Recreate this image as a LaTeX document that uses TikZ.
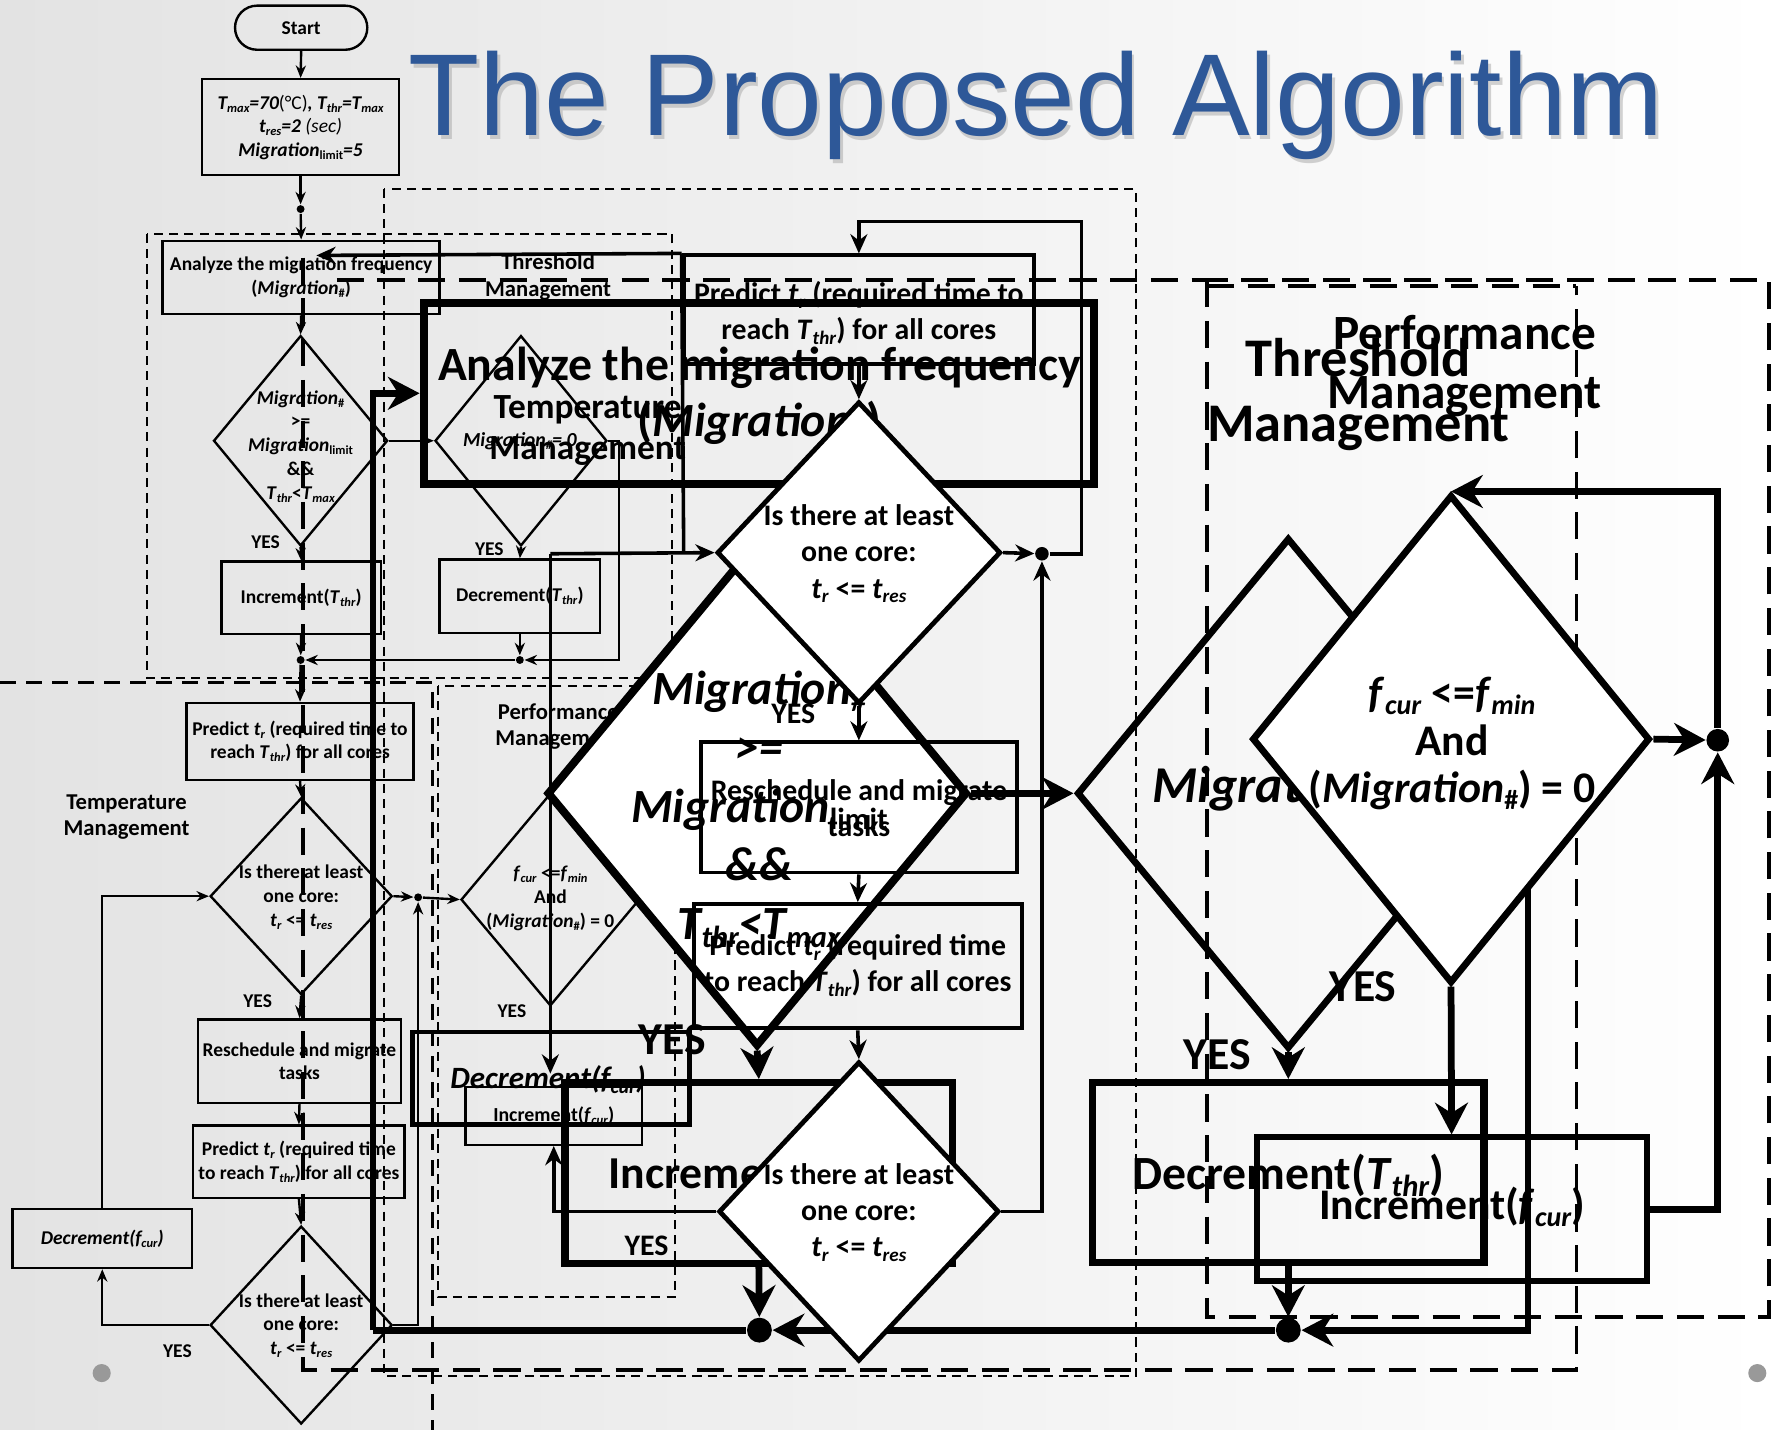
\documentclass[tikz,border=0pt]{standalone}
\usepackage{fontspec}
\setmainfont{Carlito}
\newfontfamily\titlefont{Liberation Sans}
\usetikzlibrary{shapes.geometric,arrows.meta}
\definecolor{titleblue}{RGB}{46,88,152}
\newcommand\sbs[1]{\raisebox{-0.32ex}{\scalebox{0.64}{#1}}}
\newcommand\fSm{\fontsize{4.9}{6}\selectfont\bfseries}
\newcommand\fLb{\fontsize{5.7}{6.6}\selectfont\bfseries}
\newcommand\fMd{\fontsize{7.5}{9}\selectfont\bfseries}
\newcommand\vT[1]{\textit{T}\sbs{\textit{#1}}}
\newcommand\vt[1]{\textit{t}\sbs{\textit{#1}}}
\newcommand\vf[1]{\textit{f}\sbs{\textit{#1}}}
\newcommand\vM{\textit{Migration}}
\begin{document}
\begin{tikzpicture}[x=0.01cm,y=-0.01cm,
  tn/.style={draw,line width=0.6pt,inner sep=0pt,align=center},
  mn/.style={draw,line width=1.0pt,inner sep=0pt,align=center},
  bn/.style={draw,line width=1.8pt,inner sep=0pt,align=center},
  dia/.style={diamond,draw,inner sep=0pt},
  txt/.style={inner sep=0pt,align=center},
  sa/.style={line width=0.6pt,-{Stealth[length=1.1mm,width=0.9mm]}},
  ma/.style={line width=0.9pt,-{Stealth[length=1.7mm,width=1.5mm]}},
  ba/.style={line width=1.7pt,-{Stealth[length=2.8mm,width=2.9mm]}},
  bl/.style={line width=1.7pt},
  dthin/.style={line width=0.5pt,dash pattern=on 0.8mm off 0.55mm},
  dmid/.style={line width=0.7pt,dash pattern=on 1.4mm off 0.9mm},
  dthick/.style={line width=1.0pt,dash pattern=on 2.4mm off 1.2mm},
  dot/.style={circle,fill=black,inner sep=0pt}
]
\useasboundingbox (0,0) rectangle (1568,1265);
\shade[left color=black!11,right color=white] (0,0) rectangle (1568,1265);
\node[anchor=base,inner sep=0pt,text=black!35,opacity=0.5,font=\titlefont\fontsize{29.3}{33}\selectfont] (titlesh) at (919.5,123) {The Proposed Algorithm};
\node[anchor=base,inner sep=0pt,text=titleblue,font=\titlefont\fontsize{29.3}{33}\selectfont] (title) at (917,120) {The Proposed Algorithm};

% ---------- dashed regions ----------
\draw[dthin] (130,207) rectangle (595,600);
\draw[dthin] (340,167) rectangle (1005,1218);
\draw[dmid] (0,604) -- (383,604) -- (383,1265);
\draw[dthin] (388,607) rectangle (597,1148);
\draw[dthick] (268,228) -- (268,1212) -- (1395,1212) -- (1395,253);
\draw[dthick] (298,248) -- (1068,248);
\draw[dthick] (1068,253) -- (1395,253);
\draw[dthick] (1068,248) rectangle (1565,1165);

% ---------- left (small) chart ----------
\node[tn,rounded corners=0.195cm,minimum width=1.17cm,minimum height=0.39cm,font=\fSm] (start) at (266.5,24.5) {Start};
\node[tn,minimum width=1.74cm,minimum height=0.85cm,font=\fontsize{4.9}{5.9}\selectfont\bfseries\itshape] (init) at (266,112.5) {T\sbs{max}=70{\upshape\mdseries(°C)}, T\sbs{thr}=T\sbs{max}\\t\sbs{res}=2 {\mdseries(sec)}\\Migration\sbs{\upshape limit}=5};
\node[dot,minimum size=0.07cm] (p1) at (266,185) {};
\node[tn,minimum width=2.45cm,minimum height=0.65cm,font=\fSm] (an) at (266.5,245.5) {Analyze the migration frequency\\(\vM\sbs{\#})};
\node[dia,line width=0.6pt,minimum width=1.54cm,minimum height=1.86cm] (d1) at (266,390) {};
\node[txt,font=\fSm] (d1t) at (266,395) {\vM\sbs{\#}\\>=\\\vM\sbs{limit}\\\&\&\\\vT{thr}<\vT{max}};
\node[tn,minimum width=1.41cm,minimum height=0.64cm,font=\fSm] (inc1) at (266.5,529) {Increment(\vT{thr})};
\node[dia,line width=0.6pt,minimum width=1.52cm,minimum height=1.86cm] (d2) at (461,390) {};
\node[txt,font=\fontsize{5}{6}\selectfont\bfseries\itshape] (d2t) at (460,390) {Migration\sbs{\#}= 0};
\node[tn,minimum width=1.42cm,minimum height=0.65cm,font=\fSm] (dec1) at (460,527.5) {Decrement(\vT{thr})};
\node[dot,minimum size=0.07cm] (p2) at (266,584) {};
\node[dot,minimum size=0.07cm] (p3) at (460,584) {};
\node[tn,minimum width=2.01cm,minimum height=0.68cm,font=\fSm] (pred1) at (265.5,656) {Predict \vt{r} (required time to\\reach \vT{thr}) for all cores};
\node[dia,line width=0.6pt,minimum width=1.61cm,minimum height=1.74cm] (d3) at (266.5,793) {};
\node[txt,font=\fSm] (d3t) at (266.5,794) {Is there at least\\one core:\\\vt{r} <= \vt{res}};
\node[tn,minimum width=1.80cm,minimum height=0.74cm,font=\fSm] (resch1) at (265,939) {Reschedule and migrate\\tasks};
\node[tn,minimum width=1.87cm,minimum height=0.64cm,font=\fSm] (pred2) at (264.5,1028) {Predict \vt{r} (required time\\to reach \vT{thr}) for all cores};
\node[dia,line width=0.6pt,minimum width=1.61cm,minimum height=1.75cm] (d4) at (266.5,1172.5) {};
\node[txt,font=\fSm] (d4t) at (266.5,1173) {Is there at least\\one core:\\\vt{r} <= \vt{res}};
\node[tn,minimum width=1.59cm,minimum height=0.52cm,font=\fSm\itshape] (decf) at (90.5,1096) {Decrement(\vf{cur})};
\node[dot,minimum size=0.07cm] (p4) at (370,794) {};
\node[dia,line width=0.6pt,minimum width=1.58cm,minimum height=1.88cm] (d5) at (487,796) {};
\node[txt,font=\fSm] (d5t) at (487,795) {\vf{cur} <=\vf{min}\\And\\(\vM\sbs{\#}) = 0};

\node[txt,font=\fLb] (lth) at (485,245) {Threshold\\Management};
\node[txt,font=\fLb] (ltm) at (112,723) {Temperature\\Management};
\node[txt,font=\fLb] (lpm) at (494,643) {Performance\\Management};
\node[txt,font=\fSm] (y1) at (235,480) {YES};
\node[txt,font=\fSm] (y2) at (433,486) {YES};
\node[txt,font=\fSm] (y3) at (228,886) {YES};
\node[txt,font=\fSm] (y4) at (157,1196) {YES};
\node[txt,font=\fSm] (y5) at (453,895) {YES};

\draw[sa] (start.south) -- (init.north);
\draw[sa] (init.south) -- (p1);
\draw[sa] (p1) -- (an.north);
\draw[sa] (an.south) -- (d1.north);
\draw[sa] (d1.south) -- (inc1.north);
\draw[sa] (inc1.south) -- (p2);
\draw[sa] (d1.east) -- (d2.west);
\draw[sa] (d2.south) -- (dec1.north);
\draw[sa] (dec1.south) -- (p3);
\draw[sa] (d2.east) -- (548,390) |- (p3);
\draw[sa] (p3) -- (p2);
\draw[sa] (p2) -- (pred1.north);
\draw[sa] (pred1.south) -- (d3.north);
\draw[sa] (d3.south) -- (resch1.north);
\draw[sa] (resch1.south) -- (pred2.north);
\draw[sa] (pred2.south) -- (d4.north);
\draw[sa] (d4.west) -| (decf.south);
\draw[sa] (decf.north) |- (d3.west);
\draw[sa] (d3.east) -- (p4);
\draw[sa] (p4) -- (d5.west);
\draw[sa] (d4.east) -| (p4.south);

\fill[black!40] (90,1215) circle[radius=0.08cm];
\fill[black!40] (1555,1215) circle[radius=0.08cm];

% ---------- middle (large) chart ----------
\node[draw,line width=2pt,minimum width=5.93cm,minimum height=1.6cm] (bigan) at (671.5,348) {};
\node[txt,font=\fontsize{12}{14.2}\selectfont\bfseries] (bigant) at (672,350) {Analyze the migration frequency\\(\vM\sbs{\#})};
\node[txt,font=\fontsize{8.9}{10.5}\selectfont\bfseries] (mtm) at (520,381) {Temperature\\Management};
\node[mn,minimum width=3.10cm,minimum height=0.96cm] (mpred) at (760,274) {};
\node[txt,font=\fMd] (mpredt) at (760,277) {Predict \vt{r} (required time to\\reach \vT{thr}) for all cores};

\coordinate (j1) at (487,490);
\draw[line width=0.9pt] (mpred.north west) -- (605,490);
\draw[line width=0.9pt,-{Stealth[length=1.7mm,width=1.5mm]}] (mpred.north west) -- (280,226);

\node[draw,line width=1.1pt,minimum width=2.45cm,minimum height=0.82cm] (bdecf) at (487.5,954) {};
\node[txt,font=\fontsize{7.8}{9}\selectfont\bfseries\itshape] (bdecft) at (485,955) {Decrement(\vf{cur})};
\node[tn,minimum width=1.56cm,minimum height=0.51cm,font=\fontsize{5}{6}\selectfont\bfseries] (incf) at (490,987.5) {Increment(\vf{cur})};

\draw[ma] (j1) -- (487,950);

\node[dia,line width=2pt,fill=white,minimum width=3.72cm,minimum height=4.48cm] (dB) at (670,702) {};
\node[mn,minimum width=2.80cm,minimum height=1.15cm] (resch2) at (760,714.5) {};
\node[txt,font=\fMd] (resch2t) at (760,715) {Reschedule and migrate\\tasks};
\node[mn,minimum width=2.90cm,minimum height=1.10cm] (pred3) at (759,855) {};
\node[txt,font=\fMd] (pred3t) at (759,854) {Predict \vt{r} (required time\\to reach \vT{thr}) for all cores};
\node[txt,font=\fontsize{12}{14.8}\selectfont\bfseries\itshape] (dBt) at (672,716) {Migration\sbs{\#}\\>=\\Migration\sbs{\upshape limit}\\\&\&\\T\sbs{thr}<T\sbs{max}};

\node[draw,line width=1.8pt,minimum width=3.43cm,minimum height=1.6cm] (binc) at (671.5,1038) {};
\node[txt,font=\fontsize{11.5}{13}\selectfont\bfseries] (binct) at (664,1040) {Increment(\vT{thr})};

\node[dot,minimum size=0.22cm] (pL) at (672,1177) {};
\node[dot,minimum size=0.22cm] (pR) at (1140,1177) {};
\node[dot,minimum size=0.12cm] (pA) at (922,490) {};
\node[dot,minimum size=0.2cm] (pE) at (1520,655) {};

\draw[bl] (330,1177) -- (pL);
\draw[ba] (330,1177) -- (330,348) -- (bigan.west);
\draw[ba] (pR) -- (pL);

\node[dia,line width=1.2pt,fill=white,minimum width=2.51cm,minimum height=2.67cm] (dA) at (760,489) {};
\node[txt,font=\fontsize{7.5}{9.1}\selectfont\bfseries] (dAt) at (760,490) {Is there at least\\one core:\\\vt{r} <= \vt{res}};
\node[dia,line width=1.2pt,fill=white,minimum width=2.48cm,minimum height=2.65cm] (dC) at (760,1072) {};
\node[txt,font=\fontsize{7.5}{9.1}\selectfont\bfseries] (dCt) at (760,1073) {Is there at least\\one core:\\\vt{r} <= \vt{res}};

\draw[ma] (j1) -- (dA.west);
\draw[ma] (dA.east) -- (pA);
\draw[ma] (pA) -- (957,490) -- (957,196) -| (mpred.north);
\draw[ma] (mpred.south) -- (dA.north);
\draw[ma] (dA.south) -- (resch2.north);
\draw[ma] (resch2.south) -- (pred3.north);
\draw[ma] (pred3.south) -- (dC.north);
\draw[ma] (dC.east) -| (pA.south);
\draw[ma] (dC.west) -| (incf.south);

\draw[ba] (dB.south) -- (binc.north);
\draw[ba] (binc.south) -- (pL);

\node[txt,font=\fMd] (yA) at (702,632) {YES};
\node[txt,font=\fMd] (yC) at (572,1102) {YES};
\node[txt,font=\fontsize{11.5}{13}\selectfont\bfseries] (yB) at (595,920) {YES};

% ---------- right (large) chart ----------
\node[txt,font=\fontsize{13.7}{16.5}\selectfont\bfseries] (rth) at (1202,349) {Threshold\\Management};
\node[txt,font=\fontsize{12.4}{14.8}\selectfont\bfseries] (rpm) at (1296,324) {Performance\\Management};

\node[dia,line width=1.7pt,minimum width=3.74cm,minimum height=4.52cm] (dD) at (1140,702) {};
\node[txt,font=\fontsize{13}{15}\selectfont\bfseries\itshape] (dDt) at (1115,698) {Migration};
\draw[ba] (1352,720) -- (1352,1177) -- (pR);

\node[dia,line width=1.7pt,fill=white,minimum width=3.52cm,minimum height=4.32cm] (dE) at (1284,654) {};
\node[txt,font=\fontsize{11}{12}\selectfont\bfseries] (dEt) at (1285,658) {\vf{cur} <=\vf{min}\\And\\(\vM\sbs{\#}) = 0};

\node[draw,line width=1.8pt,minimum width=3.46cm,minimum height=1.59cm] (decT) at (1140,1037.5) {};
\node[txt,font=\fontsize{12}{14}\selectfont\bfseries] (decTt) at (1140,1040) {Decrement(\vT{thr})};
\node[draw,line width=1.5pt,minimum width=3.45cm,minimum height=1.27cm] (incF) at (1284.5,1070) {};
\node[txt,font=\fontsize{11}{13}\selectfont\bfseries] (incFt) at (1285,1068) {Increment(\vf{cur})};

\draw[ba] (dB.east) -- (dD.west);
\draw[ba] (dD.south) -- (decT.north);
\draw[ba] (decT.south) -- (pR);
\draw[ba] (dE.east) -- (pE);
\draw[ba] (pE) |- (dE.north);
\draw[ba] (incF.east) -| (pE.south);
\draw[ba] (dE.south) -- (incF.north);

\node[txt,font=\fontsize{11.5}{13}\selectfont\bfseries] (yD) at (1077,933) {YES};
\node[txt,font=\fontsize{11.5}{13}\selectfont\bfseries] (yE) at (1206,873) {YES};
\end{tikzpicture}
\end{document}
